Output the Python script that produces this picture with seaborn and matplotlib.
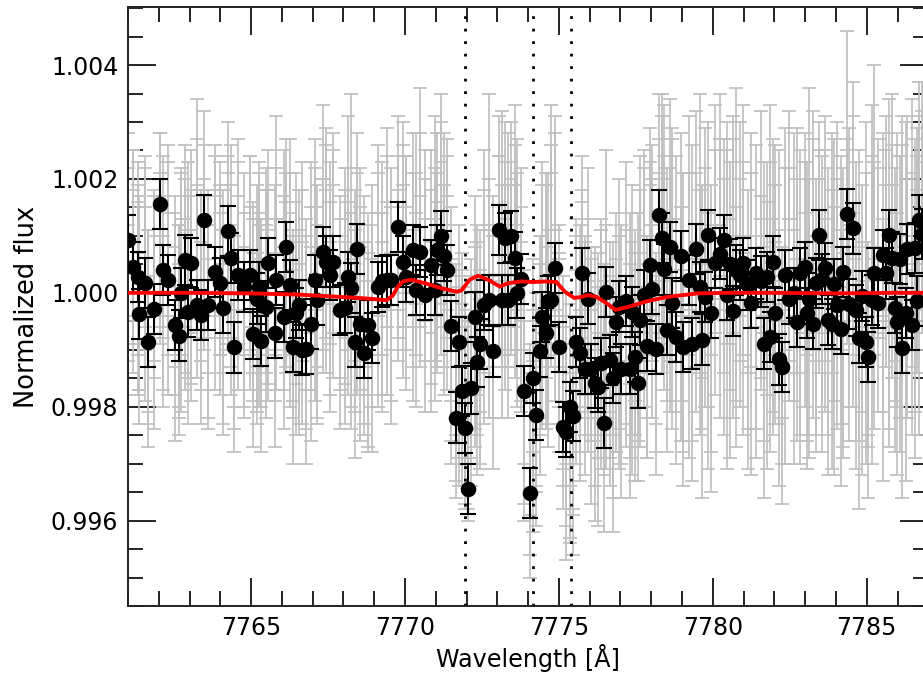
import numpy as np
import pandas as pd
import matplotlib
matplotlib.use('Agg')
import matplotlib.pyplot as plt
import seaborn as sns
from matplotlib.ticker import MultipleLocator

# Averaged spectrum (black points)
wl = [
    # 7761 - 7765.3
    7761.00, 7761.16, 7761.32, 7761.36, 7761.54, 7761.65, 7761.84, 7762.05, 7762.14, 7762.30,
    7762.52, 7762.65, 7762.73, 7762.86, 7762.95, 7763.06, 7763.25, 7763.36, 7763.47, 7763.60,
    7763.84, 7763.98, 7764.10, 7764.25, 7764.36, 7764.45, 7764.57, 7764.76, 7764.95, 7765.06,
    7765.18, 7765.25, 7765.31,
    # 7765.4 - 7769.8
    7765.47, 7765.55, 7765.77, 7765.82, 7766.06, 7766.14, 7766.25, 7766.36, 7766.47, 7766.56,
    7766.66, 7766.79, 7766.96, 7767.06, 7767.14, 7767.34, 7767.44, 7767.55, 7767.66, 7767.88,
    7768.04, 7768.15, 7768.26, 7768.36, 7768.45, 7768.55, 7768.67, 7768.80, 7768.94, 7769.12,
    7769.26, 7769.41, 7769.56, 7769.77,
    # 7769.9 - 7774.3 (first two O I lines)
    7769.93, 7770.04, 7770.26, 7770.37, 7770.48, 7770.64, 7770.86, 7770.96, 7771.05, 7771.16,
    7771.27, 7771.35, 7771.50, 7771.66, 7771.74, 7771.85, 7771.96, 7772.05, 7772.15, 7772.26,
    7772.35, 7772.44, 7772.57, 7772.72, 7772.86, 7773.05, 7773.15, 7773.24, 7773.35, 7773.45,
    7773.56, 7773.65, 7773.78, 7773.87, 7774.06, 7774.16, 7774.25,
    # 7774.3 - 7778.5
    7774.37, 7774.46, 7774.57, 7774.65, 7774.75, 7774.86, 7775.00, 7775.13, 7775.24, 7775.35,
    7775.46, 7775.54, 7775.67, 7775.76, 7775.84, 7775.95, 7776.05, 7776.16, 7776.27, 7776.38,
    7776.45, 7776.54, 7776.67, 7776.76, 7776.84, 7776.95, 7777.03, 7777.17, 7777.30, 7777.36,
    7777.46, 7777.57, 7777.65, 7777.75, 7777.86, 7777.95, 7778.03, 7778.16, 7778.25, 7778.36,
    7778.41, 7778.51,
    # 7778.6 - 7782.8
    7778.60, 7778.67, 7778.81, 7778.96, 7779.03, 7779.22, 7779.32, 7779.46, 7779.57, 7779.65,
    7779.76, 7779.84, 7779.95, 7780.06, 7780.22, 7780.36, 7780.47, 7780.55, 7780.66, 7780.76,
    7780.87, 7780.98, 7781.14, 7781.25, 7781.41, 7781.55, 7781.65, 7781.77, 7781.85, 7781.94,
    7782.03, 7782.15, 7782.25, 7782.36, 7782.46, 7782.64, 7782.75, 7782.82,
    # 7783 - 7786.8
    7783.00, 7783.05, 7783.14, 7783.24, 7783.35, 7783.45, 7783.54, 7783.64, 7783.75, 7783.86,
    7783.95, 7784.05, 7784.15, 7784.24, 7784.35, 7784.43, 7784.54, 7784.65, 7784.74, 7784.85,
    7784.96, 7785.05, 7785.16, 7785.24, 7785.38, 7785.52, 7785.63, 7785.73, 7785.81, 7785.92,
    7785.99, 7786.08, 7786.15, 7786.28, 7786.32, 7786.46, 7786.57, 7786.64, 7786.71, 7786.78,
]

flux = [
    1.00093, 1.00046, 1.00028, 0.99963, 1.00017, 0.99914, 0.99971, 1.00156, 1.00040, 1.00023,
    0.99944, 0.99925, 0.99999, 1.00057, 0.99967, 1.00052, 0.99979, 0.99961, 1.00128, 0.99979,
    1.00037, 1.00017, 0.99974, 1.00109, 1.00061, 0.99904, 1.00031, 1.00011, 1.00031, 0.99928,
    0.99990, 1.00011, 0.99916,

    0.99976, 1.00053, 0.99929, 1.00023, 0.99958, 1.00080, 1.00014, 0.99905, 0.99964, 0.99979,
    0.99900, 0.99901, 0.99946, 1.00023, 0.99987, 1.00072, 1.00055, 1.00031, 1.00055, 0.99970,
    0.99973, 1.00028, 1.00008, 0.99914, 1.00077, 0.99946, 0.99895, 0.99944, 0.99920, 1.00011,
    1.00020, 1.00023, 1.00023, 1.00115,

    1.00055, 1.00028, 1.00075, 1.00005, 1.00072, 0.99996, 1.00049, 1.00005, 1.00075, 1.00100,
    1.00065, 1.00040, 0.99942, 0.99781, 0.99913, 0.99828, 0.99762, 0.99655, 0.99832, 0.99958,
    0.99878, 0.99910, 0.99979, 0.99988, 0.99897, 1.00110, 0.99988, 1.00096, 0.99988, 1.00099,
    1.00062, 0.99999, 1.00024, 0.99827, 0.99648, 0.99850, 0.99786,

    0.99897, 0.99958, 0.99929, 0.99985, 0.99987, 1.00044, 0.99905, 0.99765, 0.99756, 0.99799,
    0.99783, 0.99913, 0.99894, 1.00035, 0.99866, 0.99990, 0.99867, 0.99841, 0.99835, 0.99876,
    0.99771, 1.00002, 0.99882, 0.99850, 0.99948, 0.99976, 0.99867, 0.99985, 0.99866, 0.99967,
    0.99887, 0.99841, 0.99953, 0.99996, 0.99907, 1.00049, 1.00007, 0.99902, 1.00137, 1.00096,
    1.00041, 0.99935,

    1.00081, 0.99982, 0.99923, 1.00065, 0.99905, 1.00023, 0.99911, 1.00077, 1.00011, 0.99918,
    0.99993, 1.00102, 0.99964, 1.00052, 1.00069, 1.00093, 0.99996, 1.00050, 0.99968, 1.00040,
    1.00031, 1.00052, 1.00014, 0.99982, 1.00034, 1.00020, 0.99911, 1.00028, 0.99923, 1.00055,
    0.99965, 0.99883, 0.99869, 1.00031, 0.99990, 1.00000, 0.99948, 1.00034,

    1.00046, 0.99965, 0.99990, 0.99946, 1.00017, 1.00102, 1.00024, 1.00043, 0.99953, 0.99945,
    1.00016, 0.99979, 0.99936, 1.00037, 1.00138, 0.99980, 1.00113, 0.99969, 0.99920, 0.99994,
    0.99913, 0.99887, 0.99987, 1.00034, 0.99983, 1.00066, 1.00034, 1.00102, 1.00062, 0.99973,
    0.99949, 1.00060, 0.99903, 0.99965, 1.00077, 0.99944, 1.00078, 0.99986, 1.00128, 1.00104,
]
flux_err = 0.00044

# Individual exposures (grey), deviation from unity in units of 1e-4
gray_a_dev = [
    12, 2, 7, -1, 6, -5, 1, 12, 8, -2, -2, -4, 5, 10, 1, 9, 18, -7, 16, 2,
    8, -2, 2, 14, 3, -12, 7, 5, -1, -3, 3, 5, -4,
    2, 9, -3, 6, -8, 11, 5, -6, 0, 2, -7, -14, -1, 6, 3, 17, 2, 7, 9, 1,
    -7, 6, 19, -5, 12, -1, -7, -2, -4, 5, -2, 13, 6, 8,
    10, -1, 12, 5, 20, 4, 9, -3, 12, 14, 3, 8, -10, -20, -13, -18, -22, -24, -13, -8,
    -16, -5, 2, 19, -6, 15, 3, 14, 3, 14, 10, -4, 6, -21, -30, -19, -25,
    -6, 3, -8, 5, 10, 12, -4, -22, -25, -18, -30, -6, -12, 8, -16, 6, -10, -18, -9, -15,
    -26, 9, -13, -20, -2, 4, -14, 7, -20, 3, -9, -17, 2, 9, -6, 13, 4, -12, 19, 15,
    8, -3,
    18, -8, -14, 12, -18, 5, -10, 16, 2, -20, -4, 14, -12, 9, 19, 11, -15, 7, -6, 20,
    4, -9, 2, -16, 10, 1, -20, 7, -12, 11, -7, -18, -14, 6, -3, 12, -10, 9,
    12, -10, 20, -6, 4, 14, -12, 9, -16, 2, 11, -8, -18, 6, 30, -4, 15, -10, -22, 3,
    -14, -20, 8, 24, -5, 12, 3, 18, 10, -12, -16, 8, -20, -6, 15, -9, 11, 2, 21, 16,
]
gray_b_dev = [
    5, 8, -1, 0, -2, -6, -7, 11, 0, 6, -9, -5, -4, 3, -6, 1, 2, 0, 9, -5,
    0, 6, -6, 7, 9, -7, 0, -3, 7, -10, -4, -3, -11,
    -5, 1, -10, 14, 0, 4, -3, -13, -8, -6, 6, -7, -9, -2, -5, 3, 9, -1, 2, -7,
    1, -1, -3, -12, 4, -9, -8, -10, -11, -3, 6, -1, -2, 14,
    2, 7, 4, -3, 11, -4, 1, 5, 4, 6, 11, 0, -2, -16, -5, -13, -20, -21, -17, 0,
    -8, -13, -6, -5, -14, 7, -5, 6, -5, 6, 2, 4, -2, -13, -33, -11, -17,
    -15, -7, 2, -6, 4, 14, -11, -14, -30, -26, -21, -13, -5, -1, -8, -4, -20, -9, -24, -6,
    -15, -5, -17, -8, -11, -7, -19, -6, -12, -8, -16, -3, -10, 5, -12, 6, -5, -15, 10, 3,
    16, -11,
    5, 10, -4, -2, -11, 14, -16, 4, -8, 2, 12, -3, -18, 16, -5, 3, 8, -12, 10, -2,
    13, 6, -14, 4, -7, 15, -9, -1, 6, -4, 9, -6, -20, 12, 5, -13, 3, -8,
    -3, 6, -12, 10, -8, 3, 7, -4, 5, -14, -2, 13, -6, -10, 8, 12, -3, 6, -9, -15,
    4, -8, -13, 6, 10, -4, 14, -7, 2, 5, -3, -11, 9, 13, -5, 4, -12, 7, 14, 20,
]
gray_c_dev = [
    -3, 10, 4, -8, 9, -12, 3, 6, -5, 11, 2, -10, 7, -2, 8, -4, 12, 3, 5, -9,
    11, 4, -10, 6, -3, -5, 12, -7, 9, 1, -8, 8, -2,
    7, -4, 4, -2, 10, 1, 12, -4, 6, -10, 3, -2, 8, 12, -8, 5, 14, -6, 13, -2,
    7, 16, -9, 3, -3, 7, 2, -13, 4, 11, -6, 9, -8, 3,
    15, 9, -4, 13, 2, 10, -6, 16, 1, 20, -3, 12, -15, -10, -19, -8, -14, -20, -9, -12,
    -3, -16, 10, 5, 2, 9, 17, -2, 13, 5, 18, 12, -6, -25, -24, -27, -20,
    -10, 8, 6, -12, 18, -4, -8, -19, -15, -29, -24, -2, -18, 3, -5, -13, -7, -25, -14, -2,
    -10, -16, -6, -27, -13, -16, -3, -12, -1, -17, -4, -11, 9, -5, -14, 4, 11, -8, 6, 20,
    -2, 7,
    -6, 14, 9, -11, 6, -14, 11, -6, 20, -9, 7, -16, 4, -3, 12, -10, 15, -2, 16, -12,
    -5, 18, -9, 13, -14, -2, 8, -16, 18, -10, 4, 10, -7, -15, 17, -4, 14, -15,
    8, -16, 5, 17, -13, 10, -5, 16, -10, 13, -17, 5, 9, -14, 12, -11, 22, -16, 10, -6,
    15, -12, 18, -9, 7, -18, 10, -12, 20, -4, 13, -7, 16, -18, 5, 19, -6, 14, -10, 8,
]
gray_errs = [0.0016, 0.0017, 0.0015]

# Model spectrum (red line)
model_wl = [7761.0, 7763.0, 7765.0, 7766.5, 7767.5, 7768.5, 7769.0, 7769.4, 7769.6, 7769.77,
            7769.93, 7770.2, 7770.64, 7771.18, 7771.67, 7771.83, 7772.1, 7772.37, 7772.7, 7773.08,
            7773.35, 7773.78, 7774.16, 7774.6, 7774.92, 7775.19, 7775.5, 7775.75, 7775.95, 7776.22,
            7776.54, 7776.84, 7777.3, 7777.84, 7778.54, 7779.5, 7780.5, 7782.0, 7784.0, 7786.0,
            7787.0]
model_flux = [1.00000, 1.00000, 0.99999, 0.99997, 0.99994, 0.99991, 0.99989, 0.99987, 0.99995, 1.00011,
              1.00020, 1.00023, 1.00017, 1.00008, 1.00002, 1.00004, 1.00023, 1.00030, 1.00023, 1.00011,
              1.00017, 1.00020, 1.00019, 1.00020, 1.00019, 1.00002, 0.99991, 0.99993, 0.99996, 0.99993,
              0.99982, 0.99970, 0.99976, 0.99985, 0.99993, 0.99999, 1.00000, 1.00000, 0.99999, 1.00000,
              1.00000]

# O I triplet line centres
line_centres = [7771.94, 7774.17, 7775.39]

df = pd.DataFrame({'wl': wl, 'flux': flux})
df['gray_a'] = 1 + np.array(gray_a_dev) * 1e-4
df['gray_b'] = 1 + np.array(gray_b_dev) * 1e-4
df['gray_c'] = 1 + np.array(gray_c_dev) * 1e-4
model = pd.DataFrame({'wl': model_wl, 'flux': model_flux})

sns.set_style('ticks')
plt.rcParams['font.family'] = ['DejaVu Sans']
plt.rcParams['text.color'] = 'black'
plt.rcParams['axes.labelcolor'] = 'black'
plt.rcParams['xtick.color'] = 'black'
plt.rcParams['ytick.color'] = 'black'

fig = plt.figure(figsize=(9.23, 6.77), dpi=100)
ax = fig.add_axes([128 / 923, 1 - 606 / 677, 800.3 / 923, 599 / 677])

gray = '#c0c0c0'
for col, err in zip(['gray_a', 'gray_b', 'gray_c'], gray_errs):
    ax.errorbar(df['wl'], df[col], yerr=err, fmt='none', ecolor=gray,
                elinewidth=1.25, capsize=5, capthick=1.25, zorder=1)

for lc in line_centres:
    ax.axvline(lc, color='black', lw=2.0, linestyle=(0, (1, 3.5)), zorder=2)

ax.errorbar(df['wl'], df['flux'], yerr=flux_err, fmt='none', ecolor='black',
            elinewidth=1.5, capsize=5.8, capthick=1.5, zorder=3)
sns.scatterplot(data=df, x='wl', y='flux', color='black', s=125, linewidth=0,
                ax=ax, zorder=4, legend=False)
sns.lineplot(data=model, x='wl', y='flux', color='red', lw=2.8, ax=ax, zorder=5)

ax.set_xlim(7761, 7787)
ax.set_ylim(0.9945, 1.00502)
ax.xaxis.set_major_locator(MultipleLocator(5))
ax.xaxis.set_minor_locator(MultipleLocator(1))
ax.yaxis.set_major_locator(MultipleLocator(0.002))
ax.yaxis.set_minor_locator(MultipleLocator(0.0005))
ax.yaxis.set_major_formatter(matplotlib.ticker.FormatStrFormatter('%.3f'))

ax.tick_params(which='both', direction='in', top=True, right=True, color='black')
ax.tick_params(which='major', length=20, width=1.2, labelsize=17, pad=7)
ax.tick_params(which='minor', length=10.5, width=1.2)
for sp in ax.spines.values():
    sp.set_linewidth(1.4)
    sp.set_color('#222222')

ax.set_xlabel('Wavelength [Å]', fontsize=17.2, labelpad=3)
ax.set_ylabel('Normalized flux', fontsize=18.5, labelpad=8)

fig.savefig('out.png', dpi=100)
